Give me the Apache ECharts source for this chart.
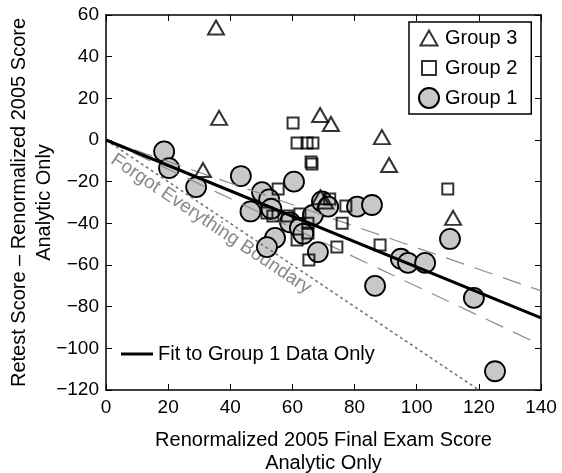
<!DOCTYPE html>
<html><head><meta charset="utf-8">
<script src="https://cdn.jsdelivr.net/npm/echarts@6/dist/echarts.min.js"></script>
<style>html,body{margin:0;padding:0;background:#fff}#c{width:562px;height:473px}</style>
</head><body><div id="c"></div>
<script>
// ---- data ----
var group1 = [[18.7,-5.5],[20.3,-13.5],[29,-22.6],[43.4,-17.3],[46.5,-34.3],[50.2,-25],[52.5,-28.5],[53.2,-33],[54.4,-47],[51.8,-51.4],[59.2,-39.5],[60.5,-20],[62.4,-42.2],[63.5,-45],[66.6,-36],[68.2,-53.8],[69.5,-29.5],[71.5,-32],[80.8,-32],[85.6,-31.2],[86.6,-70],[94.9,-57],[97.2,-59],[102.7,-59],[110.7,-47.5],[118.4,-75.8],[125.2,-111]];
var group2 = [[60.2,8.2],[61.5,-1.4],[64.7,-1.4],[66.6,-1.4],[66,-10.6],[66.3,-11.5],[55.4,-23.5],[51.8,-35],[53.7,-36.5],[58.3,-36.5],[62.4,-35.5],[65,-40],[61.5,-48],[65,-44.6],[65.3,-57.6],[72,-28.3],[77.2,-31.7],[76,-40],[74.3,-51.4],[88.2,-50.4],[110,-23.5]];
var group3 = [[35.4,54],[36.4,10.6],[31.2,-14.4],[68.9,12],[72.4,7.7],[88.8,1.4],[91.1,-12],[111.7,-37.4],[69,-27.5],[70.5,-29.5]];
var fitLine = [[0,0],[140,-85.4]];
var upperBand = [[0,0],[140,-72.4]];
var lowerBand = [[0,0],[140,-98.4]];
var forgotLine = [[0,0],[120,-120]];
var xTicks = [0,20,40,60,80,100,120,140];
var yTicks = [-120,-100,-80,-60,-40,-20,0,20,40,60];
var seriesNames = ['Group 3','Group 2','Group 1'];
var fitName = 'Fit to Group 1 Data Only';
var boundaryLabel = 'Forgot Everything Boundary';
var xName = 'Renormalized 2005 Final Exam Score\nAnalytic Only';
var yName = 'Retest Score – Renormalized 2005 Score\nAnalytic Only';

var FONT = 'Liberation Sans, Arial, Helvetica, sans-serif';
var chart = echarts.init(document.getElementById('c'), null, {renderer:'canvas'});
var baseAxis = {
  axisLine:{show:true,onZero:false,lineStyle:{color:'#000',width:1.5}},
  axisTick:{show:true,inside:true,length:6,lineStyle:{color:'#000',width:1}},
  splitLine:{show:false}
};
function ax(extra){ return Object.assign({}, JSON.parse(JSON.stringify(baseAxis)), extra); }
// legend icons with transparent padding so they render smaller than the item box
var triIcon = 'path://M0,0M22,20M2.5,17.5L11,2.5L19.5,17.5Z';
var sqIcon = 'path://M0,0M22,20M4,3L18,3L18,17L4,17Z';
chart.setOption({
  animation:false,
  textStyle:{fontFamily:FONT},
  grid:{left:106,right:21,top:15,bottom:83,containLabel:false,outerBoundsMode:'none'},
  xAxis:[
    ax({type:'value',position:'bottom',min:xTicks[0],max:xTicks[xTicks.length-1],interval:20,
      name:xName,nameLocation:'middle',nameGap:39,nameMoveOverlap:false,
      nameTextStyle:{fontSize:20,color:'#000',fontFamily:FONT,lineHeight:23},
      axisLabel:{fontSize:19,color:'#000',margin:8,fontFamily:FONT}}),
    ax({type:'value',position:'top',min:xTicks[0],max:xTicks[xTicks.length-1],interval:20,axisLabel:{show:false}})
  ],
  yAxis:[
    ax({type:'value',position:'left',min:yTicks[0],max:yTicks[yTicks.length-1],interval:20,
      name:yName,nameLocation:'middle',nameGap:49,nameRotate:90,nameMoveOverlap:false,
      nameTextStyle:{fontSize:20,color:'#000',fontFamily:FONT,lineHeight:25},
      axisLabel:{fontSize:19,color:'#000',margin:7,fontFamily:FONT,
        formatter:function(v){return v<0?'\u2212'+Math.abs(v):String(v);}}}),
    ax({type:'value',position:'right',min:yTicks[0],max:yTicks[yTicks.length-1],interval:20,axisLabel:{show:false}})
  ],
  legend:[
    {orient:'vertical',left:409,top:22,
     data:[{name:seriesNames[0],icon:triIcon},{name:seriesNames[1],icon:sqIcon},{name:seriesNames[2]}],
     borderColor:'#000',borderWidth:1.5,padding:[5,14,5,8],itemGap:8,itemWidth:22,itemHeight:20,
     textStyle:{fontSize:20,color:'#000',fontFamily:FONT},selectedMode:false},
    {orient:'horizontal',left:121,top:344,data:[{name:fitName,icon:'rect'}],
     itemWidth:32,itemHeight:3,padding:0,
     textStyle:{fontSize:20,color:'#000',fontFamily:FONT},selectedMode:false}
  ],
  series:[
    {name:'Group 1',type:'scatter',data:group1,symbol:'circle',symbolSize:20,
     itemStyle:{color:'#c8c8c8',borderColor:'#000',borderWidth:1.8,opacity:1},z:2},
    {name:'upper',type:'line',data:upperBand,symbol:'none',silent:true,
     lineStyle:{color:'#8c8c8c',width:1.2,type:[19,11]},z:3},
    {name:'lower',type:'line',data:lowerBand,symbol:'none',silent:true,
     lineStyle:{color:'#8c8c8c',width:1.2,type:[19,11]},z:3},
    {name:'forgot',type:'line',data:forgotLine,symbol:'none',silent:true,
     lineStyle:{color:'#777',width:1.6,type:[3,3]},z:3},
    {name:fitName,type:'line',data:fitLine,symbol:'none',
     itemStyle:{color:'#000'},lineStyle:{color:'#000',width:3},z:4},
    {name:'Group 2',type:'scatter',data:group2,symbol:'rect',symbolSize:11,
     itemStyle:{color:'rgba(0,0,0,0)',borderColor:'#000',borderWidth:2},z:5},
    {name:'Group 3',type:'scatter',data:group3,symbol:'triangle',symbolSize:[16,14],
     itemStyle:{color:'rgba(0,0,0,0)',borderColor:'#000',borderWidth:2},z:6}
  ],
  graphic:[
    {type:'text',x:211,y:224,rotation:-33.8*Math.PI/180,
     style:{text:boundaryLabel,fill:'#888',font:'19px '+FONT,textAlign:'center',textVerticalAlign:'middle'}}
  ]
});
</script></body></html>
